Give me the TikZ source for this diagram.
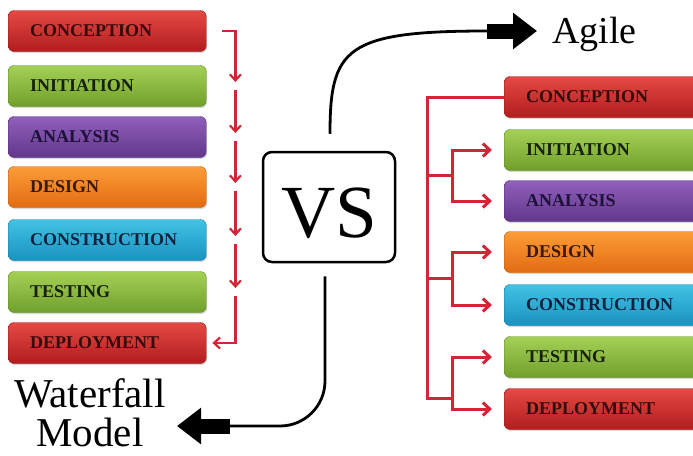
\documentclass[tikz,border=0pt]{standalone}
\usepackage{fontspec}
\setmainfont{Liberation Serif}
\usetikzlibrary{arrows.meta,calc,shadows}

\definecolor{redtop}{RGB}{228,74,68}
\definecolor{redbot}{RGB}{178,28,30}
\definecolor{redtxt}{RGB}{55,10,12}
\definecolor{greentop}{RGB}{165,208,86}
\definecolor{greenbot}{RGB}{112,160,44}
\definecolor{greentxt}{RGB}{22,32,10}
\definecolor{purpletop}{RGB}{144,96,186}
\definecolor{purplebot}{RGB}{98,54,140}
\definecolor{purpletxt}{RGB}{28,18,58}
\definecolor{orangetop}{RGB}{252,156,56}
\definecolor{orangebot}{RGB}{226,108,18}
\definecolor{orangetxt}{RGB}{60,24,8}
\definecolor{cyantop}{RGB}{66,194,228}
\definecolor{cyanbot}{RGB}{24,146,192}
\definecolor{cyantxt}{RGB}{14,34,62}
\definecolor{flowred}{RGB}{208,38,56}

\begin{document}
\begin{tikzpicture}[x=1pt, y=-1pt,
    phase/.style={rounded corners=6pt, minimum width=198pt, minimum height=41pt,
        text width=154pt, inner xsep=22pt, align=left, anchor=west,
        font=\bfseries\fontsize{18}{18}\selectfont,
        drop shadow={opacity=0.3, shadow xshift=1pt, shadow yshift=-1.5pt}},
    redphase/.style={phase, top color=redtop, bottom color=redbot, draw=redbot!85!black, text=redtxt},
    greenphase/.style={phase, top color=greentop, bottom color=greenbot, draw=greenbot!85!black, text=greentxt},
    purplephase/.style={phase, top color=purpletop, bottom color=purplebot, draw=purplebot!85!black, text=purpletxt},
    orangephase/.style={phase, top color=orangetop, bottom color=orangebot, draw=orangebot!85!black, text=orangetxt},
    cyanphase/.style={phase, top color=cyantop, bottom color=cyanbot, draw=cyanbot!85!black, text=cyantxt},
    vsbox/.style={draw, line width=2.5pt, rounded corners=9pt, minimum width=132pt,
        minimum height=110pt, inner sep=0pt, text height=61pt, text depth=0pt,
        font=\fontsize{75}{75}\selectfont},
    title/.style={inner sep=0pt},
    wfflow/.style={draw=flowred, line width=2.2pt, -{Straight Barb[length=6pt, width=11pt]}},
    agline/.style={draw=flowred, line width=3pt},
    agboth/.style={agline, {Straight Barb[length=7pt, width=13pt]}-{Straight Barb[length=7pt, width=13pt]}},
    vsline/.style={draw, line width=2.8pt},
    fatarrow/.style={draw, line width=15pt, -{Triangle[length=24pt, width=35pt]}}]

        \useasboundingbox (0,0) rectangle (693,455);
        \clip (0,0) rectangle (693,455);

        % the waterfall phases
        \node[redphase] (wf1) at (8,31) {CONCEPTION};
        \node[greenphase] (wf2) at (8,86) {INITIATION};
        \node[purplephase] (wf3) at (8,137) {ANALYSIS};
        \node[orangephase] (wf4) at (8,187) {DESIGN};
        \node[cyanphase] (wf5) at (8,240) {CONSTRUCTION};
        \node[greenphase] (wf6) at (8,292) {TESTING};
        \node[redphase] (wf7) at (8,343) {DEPLOYMENT};

        % the agile phases (they run off the right edge)
        \node[redphase] (ag1) at (504,97) {CONCEPTION};
        \node[greenphase] (ag2) at (504,150) {INITIATION};
        \node[purplephase] (ag3) at (504,201) {ANALYSIS};
        \node[orangephase] (ag4) at (504,252) {DESIGN};
        \node[cyanphase] (ag5) at (504,305) {CONSTRUCTION};
        \node[greenphase] (ag6) at (504,357) {TESTING};
        \node[redphase] (ag7) at (504,409) {DEPLOYMENT};

        % the middle box and the titles
        \node[vsbox] (vs) at (329,207) {VS};
        \node[title, anchor=base west, font=\fontsize{38}{38}\selectfont] (agile) at (552,43) {Agile};
        \node[title, align=center, font=\fontsize{41}{39}\selectfont] (waterfall) at (90,413) {Waterfall\\Model};

        % the waterfall chain, one step after the other
        \draw[wfflow] ([xshift=16pt]wf1.east) -| ([xshift=29pt,yshift=4pt]wf2.east);
        \draw[wfflow] ([xshift=29pt,yshift=-4pt]wf2.east) -- ([xshift=29pt,yshift=4pt]wf3.east);
        \draw[wfflow] ([xshift=29pt,yshift=-4pt]wf3.east) -- ([xshift=29pt,yshift=4pt]wf4.east);
        \draw[wfflow] ([xshift=29pt,yshift=-4pt]wf4.east) -- ([xshift=29pt,yshift=4pt]wf5.east);
        \draw[wfflow] ([xshift=29pt,yshift=-4pt]wf5.east) -- ([xshift=29pt,yshift=4pt]wf6.east);
        \draw[wfflow] ([xshift=29pt,yshift=-4pt]wf6.east) |- ([xshift=6pt]wf7.east);

        % the agile tree: main spine and the three forks
        \coordinate (sp) at ([xshift=-77pt]ag1.west);
        \coordinate (sub) at ([xshift=-52pt]ag1.west);
        \coordinate (spB) at ([xshift=-77pt,yshift=11pt]ag7.west);
        \coordinate (b1) at ($(ag2.west)!.5!(ag3.west)$);
        \coordinate (b2) at ($(ag4.west)!.5!(ag5.west)$);
        \draw[agline] (ag1.west) -| (spB) -- (spB -| sub);
        \draw[agline] (b1 -| sp) -- (b1 -| sub);
        \draw[agline] (b2 -| sp) -- (b2 -| sub);
        \draw[agboth] ([xshift=-12pt]ag2.west) -| (ag3.west -| sub) -- ([xshift=-12pt]ag3.west);
        \draw[agboth] ([xshift=-12pt]ag4.west) -| (ag5.west -| sub) -- ([xshift=-12pt]ag5.west);
        \draw[agboth] ([xshift=-12pt]ag6.west) -| (ag7.west -| sub) -- ([xshift=-12pt]ag7.west);

        % the two black arrows out of the VS box
        \coordinate (vsT) at ([xshift=1pt,yshift=17pt]vs.north);
        \coordinate (vsB) at ([xshift=-4pt,yshift=-13pt]vs.south);
        \coordinate (agA) at (487,31);
        \coordinate (agT) at (537,31);
        \coordinate (wfA) at (230,426);
        \coordinate (wfT) at (177,426);
        \draw[vsline] (vsT) .. controls +(0,-85) and +(-142,0) .. (agA);
        \draw[vsline, rounded corners=45pt] (vsB) |- (wfA);
        \draw[fatarrow] (agA) -- (agT);
        \draw[fatarrow] (wfA) -- (wfT);

    \end{tikzpicture}
\end{document}
